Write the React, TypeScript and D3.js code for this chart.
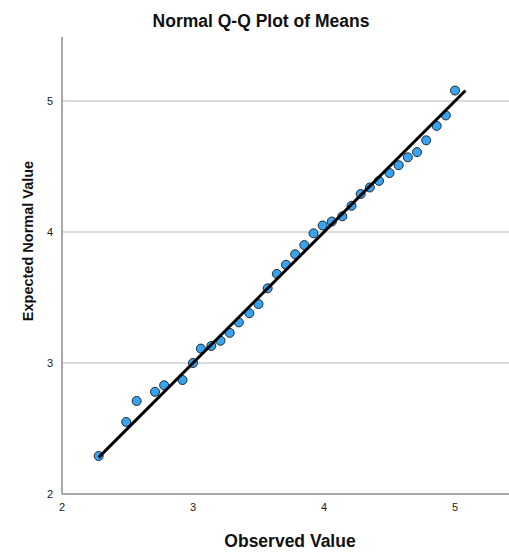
import React, { useEffect, useRef } from 'react';
import * as d3 from 'd3';

const observed = [
  2.28, 2.49, 2.57, 2.71, 2.78, 2.92, 3.0, 3.06, 3.14, 3.21, 3.28, 3.35,
  3.43, 3.5, 3.57, 3.64, 3.71, 3.78, 3.85, 3.92, 3.99, 4.06, 4.14, 4.21,
  4.28, 4.35, 4.42, 4.5, 4.57, 4.64, 4.71, 4.78, 4.86, 4.93, 5.0,
];
const expected = [
  2.29, 2.55, 2.71, 2.78, 2.83, 2.87, 3.0, 3.11, 3.13, 3.17, 3.23, 3.31,
  3.38, 3.45, 3.57, 3.68, 3.75, 3.83, 3.9, 3.99, 4.05, 4.08, 4.12, 4.2,
  4.29, 4.34, 4.39, 4.45, 4.51, 4.57, 4.61, 4.7, 4.81, 4.89, 5.08,
];
const xTicks = [2, 3, 4, 5];
const yTicks = [2, 3, 4, 5];
const gridValues = [3, 4, 5];

const App = () => {
  const ref = useRef<SVGSVGElement>(null);

  useEffect(() => {
    const width = 509;
    const height = 552;
    const left = 62;
    const right = 509;
    const top = 37;
    const bottom = 494;

    const x = d3.scaleLinear().domain([2, 2 + (right - left) / 131]).range([left, right]);
    const y = d3.scaleLinear().domain([2, 2 + (bottom - top) / 131]).range([bottom, top]);

    const svg = d3.select(ref.current);
    svg.selectAll('*').remove();
    svg.attr('width', width).attr('height', height);

    const font = '"Liberation Sans", Arial, sans-serif';

    // Title
    svg.append('text')
      .attr('x', 261)
      .attr('y', 27)
      .attr('text-anchor', 'middle')
      .style('font-family', font)
      .style('font-weight', 'bold')
      .style('font-size', '17.5px')
      .attr('fill', '#111')
      .text('Normal Q-Q Plot of Means');

    // Grid lines
    svg.append('g')
      .selectAll('line')
      .data(gridValues)
      .enter()
      .append('line')
      .attr('x1', left)
      .attr('x2', right)
      .attr('y1', d => y(d))
      .attr('y2', d => y(d))
      .attr('stroke', '#cfcfcf')
      .attr('stroke-width', 1.5);

    // Axes lines
    svg.append('line')
      .attr('x1', left).attr('x2', left)
      .attr('y1', top).attr('y2', bottom)
      .attr('stroke', '#a8a8a8').attr('stroke-width', 2);
    svg.append('line')
      .attr('x1', left).attr('x2', right)
      .attr('y1', bottom).attr('y2', bottom)
      .attr('stroke', '#a8a8a8').attr('stroke-width', 2);

    // Tick labels
    svg.append('g')
      .selectAll('text')
      .data(yTicks)
      .enter()
      .append('text')
      .attr('x', 53)
      .attr('y', d => y(d) + 4)
      .attr('text-anchor', 'end')
      .style('font-family', font)
      .style('font-size', '11px')
      .attr('fill', '#222')
      .text(d => d);

    svg.append('g')
      .selectAll('text')
      .data(xTicks)
      .enter()
      .append('text')
      .attr('x', d => x(d))
      .attr('y', 511)
      .attr('text-anchor', 'middle')
      .style('font-family', font)
      .style('font-size', '11px')
      .attr('fill', '#222')
      .text(d => d);

    // Axis titles
    svg.append('text')
      .attr('x', 290)
      .attr('y', 547)
      .attr('text-anchor', 'middle')
      .style('font-family', font)
      .style('font-weight', 'bold')
      .style('font-size', '17.5px')
      .attr('fill', '#111')
      .text('Observed Value');

    svg.append('text')
      .attr('transform', 'translate(33,241) rotate(-90)')
      .attr('text-anchor', 'middle')
      .style('font-family', font)
      .style('font-weight', 'bold')
      .style('font-size', '14.5px')
      .attr('fill', '#111')
      .text('Expected Normal Value');

    // Reference line y = x over the data range
    const lo = Math.min(d3.min(observed)!, d3.min(expected)!);
    const hi = Math.max(d3.max(observed)!, d3.max(expected)!);
    const line = d3.line<number>().x(d => x(d)).y(d => y(d));

    const points = observed.map((o, i) => ({ o, e: expected[i] }));

    svg.append('g')
      .selectAll('circle')
      .data(points)
      .enter()
      .append('circle')
      .attr('cx', d => x(d.o))
      .attr('cy', d => y(d.e))
      .attr('r', 4.5)
      .attr('fill', '#38a4ef')
      .attr('stroke', '#1d2a33')
      .attr('stroke-width', 1);

    svg.append('path')
      .attr('d', line([lo, hi]))
      .attr('stroke', '#000')
      .attr('stroke-width', 3)
      .attr('fill', 'none');
  }, []);

  return (
    <svg ref={ref} style={{ position: 'absolute', left: 0, top: 0, display: 'block' }}></svg>
  );
};

export default App;
